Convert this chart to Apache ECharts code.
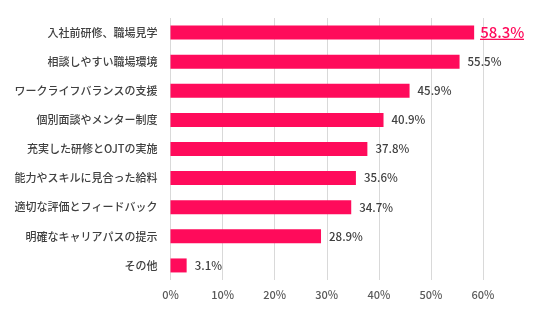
<!DOCTYPE html>
<html><head><meta charset="utf-8">
<script src="https://cdn.jsdelivr.net/npm/echarts@6/dist/echarts.min.js"></script>
<style>html,body{margin:0;padding:0;background:#fff}#c{width:536px;height:322px}</style>
</head><body><div id="c"></div>
<script>
const categories = ['入社前研修、職場見学','相談しやすい職場環境','ワークライフバランスの支援','個別面談やメンター制度','充実した研修とOJTの実施','能力やスキルに見合った給料','適切な評価とフィードバック','明確なキャリアパスの提示','その他'];
const values = [58.3, 55.5, 45.9, 40.9, 37.8, 35.6, 34.7, 28.9, 3.1];
const xTicks = [0, 10, 20, 30, 40, 50, 60];

const FONT = '"Noto Sans CJK JP", "Noto Sans", sans-serif';
const PINK = '#ff0b5b';

// underline image for the highlighted label
const ul = document.createElement('canvas');
ul.width = 4; ul.height = 40;
const g = ul.getContext('2d');
g.fillStyle = PINK; g.fillRect(0, 36, 4, 3);

const chart = echarts.init(document.getElementById('c'), null, {renderer: 'canvas'});
chart.setOption({
  animation: false,
  grid: {left: 170.5, right: 53, top: 18, bottom: 42, containLabel: false},
  xAxis: {
    type: 'value', min: xTicks[0], max: xTicks[xTicks.length - 1], interval: 10,
    axisLine: {show: false}, axisTick: {show: false},
    splitLine: {lineStyle: {color: '#d9d9d9', width: 1}},
    axisLabel: {formatter: '{value}%', color: '#595959', fontSize: 11, fontWeight: 500, fontFamily: FONT, margin: 9}
  },
  yAxis: {
    type: 'category', data: categories, inverse: true,
    axisLine: {show: false}, axisTick: {show: false},
    axisLabel: {color: '#404040', fontSize: 11, fontWeight: 500, fontFamily: FONT, margin: 13}
  },
  series: [{
    type: 'bar', barWidth: 14,
    itemStyle: {color: PINK},
    data: values.map((v, i) => i === 0 ? {
      value: v,
      label: {
        formatter: '{u|{c}%}', distance: 6,
        rich: {u: {color: PINK, fontSize: 15, fontFamily: FONT, backgroundColor: {image: ul}, lineHeight: 20}}
      }
    } : v),
    label: {show: true, position: 'right', distance: 8, formatter: '{c}%', color: '#404040', fontSize: 11.5, fontWeight: 500, fontFamily: FONT}
  }]
});
</script></body></html>
